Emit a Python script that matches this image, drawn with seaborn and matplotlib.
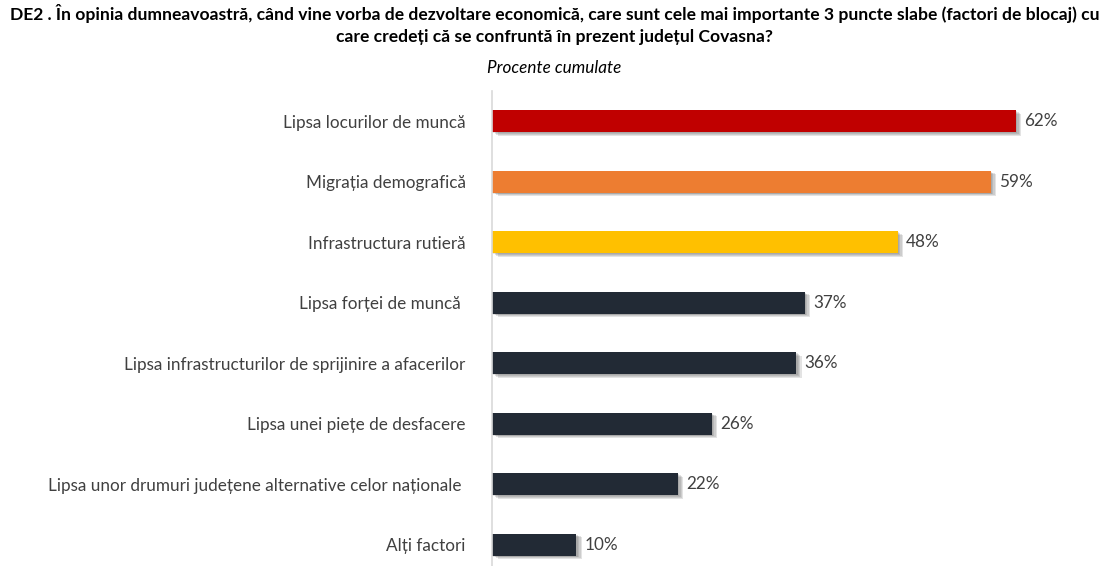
import pandas as pd
import matplotlib.pyplot as plt
import matplotlib.patheffects as pe
import seaborn as sns

factors = [
    "Lipsa locurilor de muncă",
    "Migrația demografică",
    "Infrastructura rutieră",
    "Lipsa forței de muncă ",
    "Lipsa infrastructurilor de sprijinire a afacerilor",
    "Lipsa unei piețe de desfacere",
    "Lipsa unor drumuri județene alternative celor naționale ",
    "Alți factori",
]
values = [62, 59, 48, 37, 36, 26, 22, 10]
colors = ["#C00000", "#ED7D31", "#FFC000", "#222A35", "#222A35", "#222A35", "#222A35", "#222A35"]

title = ("DE2 . În opinia dumneavoastră, când vine vorba de dezvoltare economică, care sunt cele mai importante 3 puncte slabe (factori de blocaj) cu\n"
         "care credeți că se confruntă în prezent județul Covasna?")
subtitle = "Procente cumulate"

df = pd.DataFrame({"factor": factors, "value": values})

sns.set_theme(style="white")
plt.rcParams["font.family"] = ["Lato", "DejaVu Sans"]

fig = plt.figure(figsize=(11.09, 5.66), dpi=100)
ax = fig.add_axes([0.4436, 0.0, 0.5334, 0.839])

sns.barplot(data=df, x="value", y="factor", hue="factor", palette=colors,
            legend=False, width=0.36, ax=ax, saturation=1, orient="h", linewidth=0)

# soft drop shadow like the original Excel chart
shadow = [pe.SimplePatchShadow(offset=(o, -o * 0.6), shadow_rgbFace="#555555", alpha=0.16)
          for o in (1.0, 2.0, 3.0, 4.0)]
for p in ax.patches:
    p.set_path_effects(shadow + [pe.Normal()])

for i, v in enumerate(values):
    ax.text(v + 1.0, i, f"{v}%", va="center", ha="left", fontsize=12.3, color="#404040")

ax.set_xlim(0, 70)
ax.set_ylim(7.35, -0.5)
ax.set_xlabel("")
ax.set_ylabel("")
ax.set_xticks([])
ax.tick_params(axis="y", length=0, pad=19, labelsize=12.3, labelcolor="#404040")
for s in ["top", "right", "bottom"]:
    ax.spines[s].set_visible(False)
ax.spines["left"].set_color("#D9D9D9")
ax.spines["left"].set_linewidth(1.2)

fig.text(0.5, 0.993, title, ha="center", va="top", fontsize=12.6, fontweight="bold",
         color="black", linespacing=1.5)
fig.text(0.5, 0.88, subtitle, ha="center", va="center", fontsize=12.3, style="italic", color="black")

plt.savefig("out.png", dpi=100)
